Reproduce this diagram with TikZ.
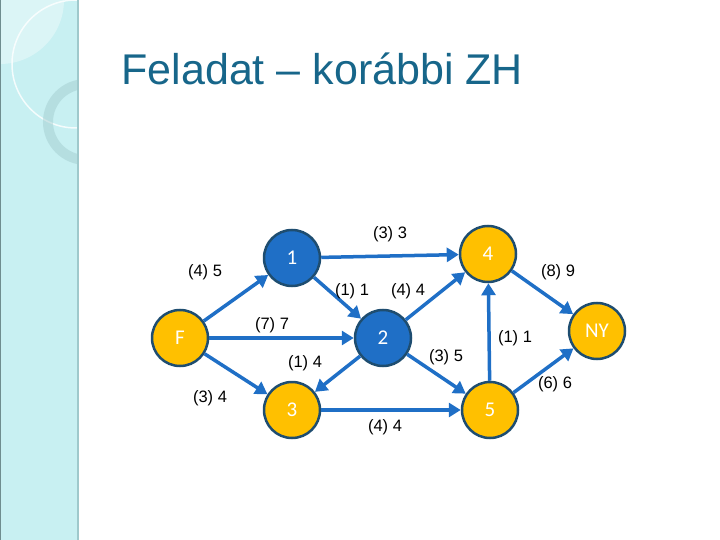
\documentclass[tikz,border=0pt]{standalone}
\usepackage{fontspec}
\setmainfont{Liberation Sans}
\newfontfamily\nodefont{Carlito}
\usetikzlibrary{arrows.meta}
\definecolor{sidecyan}{HTML}{C8F0F2}
\definecolor{sideedge}{HTML}{9FC9CC}
\definecolor{titleblue}{HTML}{17668A}
\definecolor{nodeblue}{HTML}{1F6FC6}
\definecolor{nodeorange}{HTML}{FFC000}
\definecolor{nodeedge}{HTML}{1E4D70}
\tikzset{
    vertex/.style={circle, minimum size=56pt, inner sep=0pt, draw=nodeedge, line width=2.5pt, text=white, font=\nodefont\fontsize{21}{21}\selectfont},
    inner/.style={vertex, fill=nodeblue},
    outer/.style={vertex, fill=nodeorange},
    edge/.style={draw=nodeblue, line width=3.5pt, -{Triangle[length=12pt,width=14pt]}},
    weight/.style={font=\fontsize{16.5}{16.5}\selectfont, text=black}
}
\begin{document}
\begin{tikzpicture}[x=1pt, y=-1pt]
    \useasboundingbox (0,0) rectangle (720,540);
    % Side bar
    \fill[sidecyan] (0,0) rectangle (78,540);
    \begin{scope}
        \clip (0,0) rectangle (78,540);
        \fill[white, opacity=0.35] (0,0) circle (64);
        \draw[white, opacity=0.8, line width=1.5pt] (76,64) circle (64);
        \draw[sideedge, opacity=0.45, line width=10pt] (86,122) circle (38);
    \end{scope}
    \draw[sideedge, line width=1.5pt] (78,0) -- (78,540);
    \draw[sideedge!70!black, line width=1pt] (0.5,0) -- (0.5,540);
    % Title
    \node[anchor=base west, text=titleblue, font=\fontsize{43}{43}\selectfont] (title) at (118,85) {Feladat -- korábbi ZH};
    % Nodes
    \node[outer] (F) at (180,338) {F};
    \node[inner] (n1) at (292,258) {1};
    \node[inner] (n2) at (383,338) {2};
    \node[outer] (n3) at (292,410) {3};
    \node[outer] (n4) at (488,254) {4};
    \node[outer] (n5) at (490,410) {5};
    \node[outer] (NY) at (597,331) {NY};
    % Edges
    \draw[edge] (F) -- (n1);
    \draw[edge] (F) -- (n2);
    \draw[edge] (F) -- (n3);
    \draw[edge] (n1) -- (n4);
    \draw[edge] (n1) -- (n2);
    \draw[edge] (n2) -- (n4);
    \draw[edge] (n2) -- (n3);
    \draw[edge] (n2) -- (n5);
    \draw[edge] (n3) -- (n5);
    \draw[edge] (n5) -- (n4);
    \draw[edge] (n4) -- (NY);
    \draw[edge] (n5) -- (NY);
    % Weights
    \node[weight] (w13) at (390,234) {(3) 3};
    \node[weight] (wF1) at (205,272) {(4) 5};
    \node[weight] (w12) at (352,291) {(1) 1};
    \node[weight] (w24) at (408,291) {(4) 4};
    \node[weight] (w4N) at (558,272) {(8) 9};
    \node[weight] (wF2) at (272,325) {(7) 7};
    \node[weight] (w54) at (515,338) {(1) 1};
    \node[weight] (w25) at (446,357) {(3) 5};
    \node[weight] (w23) at (305,363) {(1) 4};
    \node[weight] (w5N) at (555,384) {(6) 6};
    \node[weight] (wF3) at (210,398) {(3) 4};
    \node[weight] (w35) at (385,427) {(4) 4};
\end{tikzpicture}
\end{document}
